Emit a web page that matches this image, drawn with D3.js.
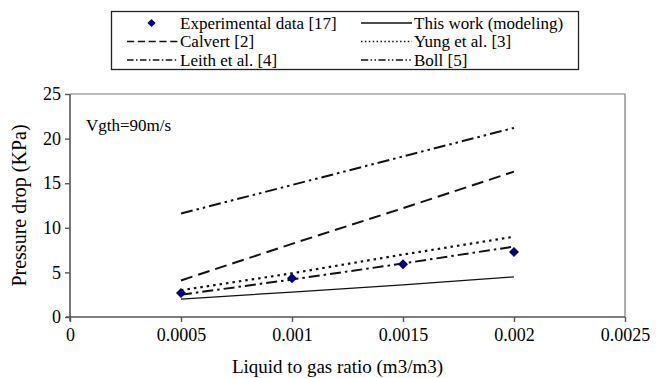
<!DOCTYPE html>
<html>
<head>
<meta charset="utf-8">
<script src="https://cdn.jsdelivr.net/npm/d3@7"></script>
<style>
	body { margin: 0; background: #fff; }
	svg text { font-family: "Liberation Serif", "Times New Roman", serif; fill: #000; }
</style>
</head>
<body>
<div id="chart"></div>
<script>
// values (Vgth = 90 m/s)
var ratios = [0.0005, 0.001, 0.0015, 0.002];
var experimental = [2.7, 4.35, 5.9, 7.3];
var thisWork = [2.0, 2.8, 3.6, 4.5];
var calvert = [4.1, 8.2, 12.2, 16.3];
var yung = [3.0, 4.9, 7.0, 9.0];
var leith = [2.5, 4.2, 6.0, 7.9];
var boll = [11.6, 14.8, 18.0, 21.2];
var xTicks = [0, 0.0005, 0.001, 0.0015, 0.002, 0.0025];
var xTickLabels = ["0", "0.0005", "0.001", "0.0015", "0.002", "0.0025"];
var yTicks = [0, 5, 10, 15, 20, 25];

var width = 656, height = 378;
var plot = {left: 70, right: 625, top: 94, bottom: 317};

var svg = d3.select("#chart")
	.append("svg")
	.attr("width", width)
	.attr("height", height)
	.attr("font-family", "Liberation Serif");

var x = d3.scaleLinear().domain([0, 0.0025]).range([plot.left, plot.right]);
var y = d3.scaleLinear().domain([0, 25]).range([plot.bottom, plot.top]);

// frame (top + right)
svg.append("path")
	.attr("d", "M" + plot.left + "," + plot.top + "H" + plot.right + "V" + plot.bottom)
	.attr("fill", "none")
	.attr("stroke", "#7a7a7a")
	.attr("stroke-width", 1.2);

var xAxis = svg.append("g")
	.attr("transform", "translate(0," + plot.bottom + ")")
	.call(d3.axisBottom(x).tickValues(xTicks).tickSize(5).tickPadding(6)
		.tickFormat(function(d, i){ return xTickLabels[i]; }));
var yAxis = svg.append("g")
	.attr("transform", "translate(" + plot.left + ",0)")
	.call(d3.axisLeft(y).tickValues(yTicks).tickSize(5).tickPadding(4));

[xAxis, yAxis].forEach(function(a){
	a.attr("font-family", "Liberation Serif");
	a.select(".domain").attr("stroke", "#555").attr("stroke-width", 1.6);
	a.selectAll(".tick line").attr("stroke", "#555").attr("stroke-width", 1.4);
	a.selectAll(".tick text")
		.style("font-family", "Liberation Serif")
		.style("font-size", "18px")
		.attr("fill", "#111");
});
yAxis.select(".domain").attr("d", "M0," + (plot.top) + "V" + (plot.bottom + 4));
xAxis.select(".domain").attr("d", "M" + (plot.left - 4) + ",0H" + plot.right);

svg.append("text")
	.attr("x", (plot.left + plot.right) / 2 - 10)
	.attr("y", 373)
	.attr("text-anchor", "middle")
	.style("font-size", "19px")
	.text("Liquid to gas ratio (m3/m3)");

svg.append("text")
	.attr("transform", "translate(26," + ((plot.top + plot.bottom) / 2) + ") rotate(-90)")
	.attr("text-anchor", "middle")
	.style("font-size", "20px")
	.text("Pressure drop (KPa)");

svg.append("text")
	.attr("x", 86)
	.attr("y", 131)
	.style("font-size", "17px")
	.text("Vgth=90m/s");

var series = [
	{name: "This work (modeling)", values: thisWork, dash: null, sw: 1.3},
	{name: "Calvert [2]", values: calvert, dash: "12,6", sw: 2},
	{name: "Yung et al. [3]", values: yung, dash: "2.5,4", sw: 2.2},
	{name: "Leith et al. [4]", values: leith, dash: "11,4,2.5,4", sw: 2},
	{name: "Boll [5]", values: boll, dash: "12,4,2.5,4,2.5,4", sw: 2}
];

var line = d3.line()
	.x(function(d, i){ return x(ratios[i]); })
	.y(function(d){ return y(d); });

svg.selectAll(".series")
	.data(series)
	.enter()
	.append("path")
	.attr("class", "series")
	.attr("d", function(d){ return line(d.values); })
	.attr("fill", "none")
	.attr("stroke", "#111")
	.attr("stroke-width", function(d){ return d.sw; })
	.attr("stroke-dasharray", function(d){ return d.dash; });

var diamond = d3.symbol().type(d3.symbolSquare).size(50);
svg.selectAll(".exp")
	.data(experimental)
	.enter()
	.append("path")
	.attr("class", "exp")
	.attr("d", diamond)
	.attr("transform", function(d, i){ return "translate(" + x(ratios[i]) + "," + y(d) + ") rotate(45)"; })
	.attr("fill", "#000080");

// legend
var legend = svg.append("g");
legend.append("rect")
	.attr("x", 111.5).attr("y", 11.5)
	.attr("width", 467).attr("height", 58)
	.attr("fill", "#fff")
	.attr("stroke", "#222")
	.attr("stroke-width", 1.3);

var rowY = [23, 41.5, 60];
var items = [
	{col: 0, row: 0, marker: true, name: "Experimental data [17]"},
	{col: 1, row: 0, s: series[0]},
	{col: 0, row: 1, s: series[1]},
	{col: 1, row: 1, s: series[2]},
	{col: 0, row: 2, s: series[3]},
	{col: 1, row: 2, s: series[4]}
];
var colSample = [[127, 178], [361, 412]];

items.forEach(function(it){
	var yy = rowY[it.row];
	var x0 = colSample[it.col][0], x1 = colSample[it.col][1];
	if(it.marker){
		legend.append("path")
			.attr("d", d3.symbol().type(d3.symbolSquare).size(34))
			.attr("transform", "translate(" + ((x0 + x1) / 2 - 1) + "," + yy + ") rotate(45)")
			.attr("fill", "#000080");
	} else {
		legend.append("line")
			.attr("x1", x0).attr("x2", x1)
			.attr("y1", yy).attr("y2", yy)
			.attr("stroke", "#111")
			.attr("stroke-width", Math.min(it.s.sw, 1.6))
			.attr("stroke-dasharray", it.s.dash ? it.s.dash.split(",").map(function(v){ return v * 0.6; }).join(",") : null);
	}
	legend.append("text")
		.attr("x", x1 + 2)
		.attr("y", yy + 5.5)
		.style("font-size", "17px")
		.text(it.marker ? it.name : it.s.name);
});
</script>
</body>
</html>
